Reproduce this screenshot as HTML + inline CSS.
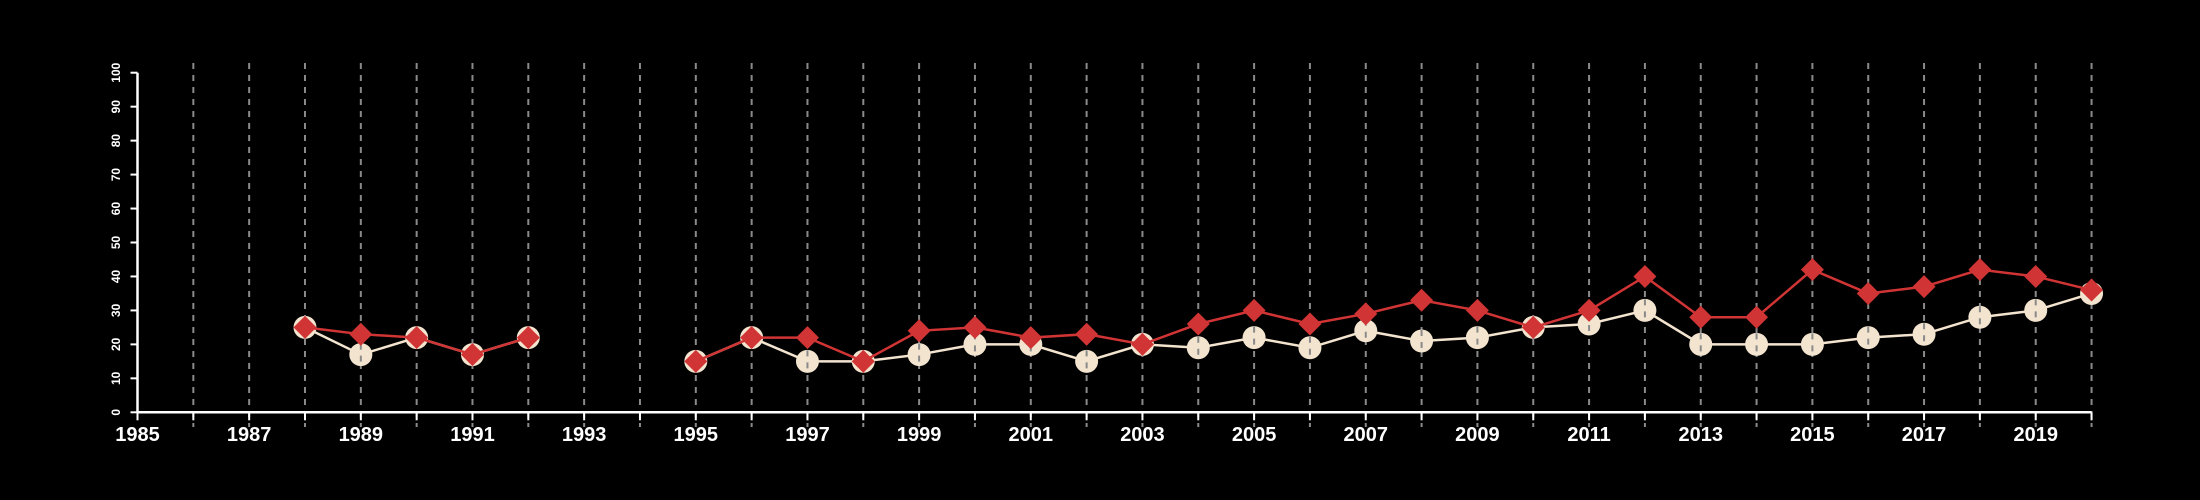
<!DOCTYPE html>
<html><head><meta charset="utf-8"><style>
html,body{margin:0;padding:0;background:#000;}
svg{display:block;font-family:"Liberation Sans",sans-serif;}
</style></head><body>
<svg id="chart" width="2200" height="500" viewBox="0 0 2200 500" xmlns="http://www.w3.org/2000/svg">
<rect width="2200" height="500" fill="#000"/>
<g id="grid"></g>
<g id="axes"></g>
<g id="series"></g>
</svg>
<script>
const years = [1988,1989,1990,1991,1992,null,1995,1996,1997,1998,1999,2000,2001,2002,2003,2004,2005,2006,2007,2008,2009,2010,2011,2012,2013,2014,2015,2016,2017,2018,2019,2020];
const whiteVals = [25,17,22,17,22,null,15,22,15,15,17,20,20,15,20,19,22,19,24,21,22,25,26,30,20,20,20,22,23,28,30,35];
const redVals = [25,23,22,17,22,null,15,22,22,15,24,25,22,23,20,26,30,26,29,33,30,25,30,40,28,28,42,35,37,42,40,36];
const yTicks = [0,10,20,30,40,50,60,70,80,90,100];
const xLabels = [1985,1987,1989,1991,1993,1995,1997,1999,2001,2003,2005,2007,2009,2011,2013,2015,2017,2019];
const xMin = 1985, xMax = 2020;

const NS = "http://www.w3.org/2000/svg";
const X = v => 137.5 + (v - xMin) * 55.83;
const Y = v => 412.3 - v * 3.396;
function mk(tag, attrs, parent){const e=document.createElementNS(NS,tag);for(const k in attrs)e.setAttribute(k,attrs[k]);parent.appendChild(e);return e;}
const grid=document.getElementById('grid'), axes=document.getElementById('axes'), series=document.getElementById('series');

for(let yr=xMin+1; yr<=xMax; yr++){
  const l=mk('line',{x1:X(yr),x2:X(yr),y1:63,y2:427,stroke:'#8a8a8a','stroke-width':2,'stroke-dasharray':'6,6'},grid);
  
  
}
const xa=mk('line',{x1:X(xMin),x2:X(xMax),y1:Y(0),y2:Y(0),stroke:'#fff','stroke-width':2.5},axes);


const ya=mk('line',{x1:X(xMin),x2:X(xMin),y1:Y(0),y2:Y(100),stroke:'#fff','stroke-width':2.5},axes);


for(const t of yTicks){
  const tk=mk('line',{x1:X(xMin)-7,x2:X(xMin),y1:Y(t),y2:Y(t),stroke:'#fff','stroke-width':2},axes);
  
  
  const tx=mk('text',{x:0,y:0,fill:'#fff','font-size':12,'font-weight':'bold','text-anchor':'middle',transform:`translate(120,${Y(t)}) rotate(-90)`},axes);
  tx.textContent=t;
  
  
}
for(let yr=xMin; yr<=xMax; yr++){
  const tk=mk('line',{x1:X(yr),x2:X(yr),y1:Y(0),y2:Y(0)+8,stroke:'#fff','stroke-width':2},axes);
  
  
}
for(const yr of xLabels){
  const tx=mk('text',{x:X(yr),y:441,fill:'#fff','font-size':20,'font-weight':'bold','text-anchor':'middle'},axes);
  tx.textContent=yr;
  
  
}
function drawLine(vals,color,name){
  let d='',pen=false;
  years.forEach((yr,i)=>{const v=vals[i];if(yr===null||v===null){pen=false;return;}d+=(pen?'L':'M')+X(yr)+','+Y(v);pen=true;});
  const p=mk('path',{d:d,fill:'none',stroke:color,'stroke-width':2.5},series);
  
  
}
drawLine(whiteVals,'#f3e4cf','line-series-cream');
years.forEach((yr,i)=>{if(yr===null||whiteVals[i]===null)return;
  const c=mk('circle',{cx:X(yr),cy:Y(whiteVals[i]),r:11.5,fill:'#f3e4cf'},series);
  
  
  const g=mk('line',{x1:X(yr),x2:X(yr),y1:Y(whiteVals[i])-11,y2:Y(whiteVals[i])+11,stroke:'#8a8a8a','stroke-width':2,'stroke-dasharray':'6,6'},series);
  
  
});
drawLine(redVals,'#d13434','line-series-red');
years.forEach((yr,i)=>{if(yr===null||redVals[i]===null)return;
  const x=X(yr),y=Y(redVals[i]),s=11.5;
  const p=mk('polygon',{points:`${x},${y-s} ${x+s},${y} ${x},${y+s} ${x-s},${y}`,fill:'#d13434'},series);
  
  
});
</script>
</body></html>
